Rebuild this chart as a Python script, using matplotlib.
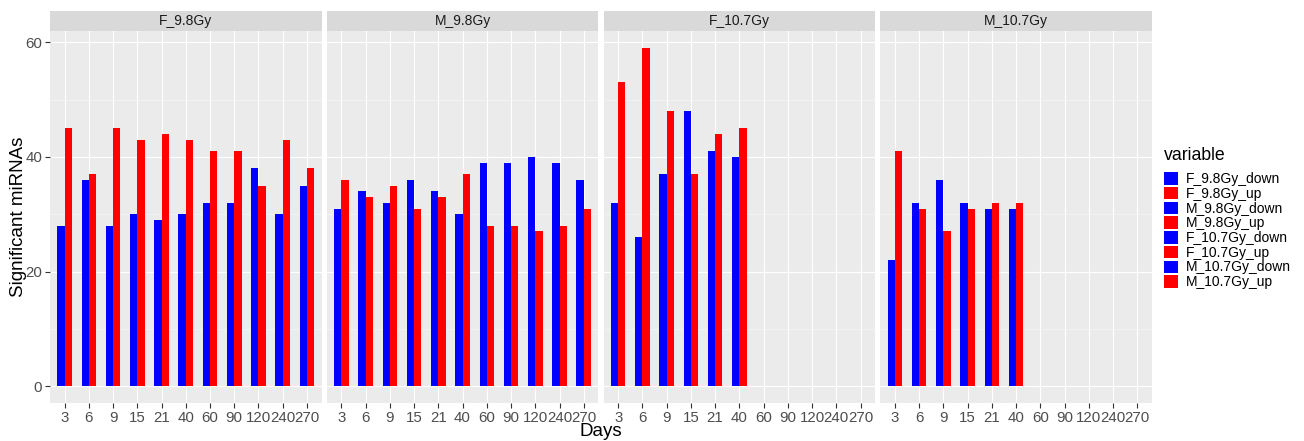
import matplotlib
matplotlib.use("Agg")
import matplotlib.pyplot as plt
from matplotlib.patches import Patch
import numpy as np

plt.rcParams['font.family'] = ['Liberation Sans', 'DejaVu Sans']

days = ["3", "6", "9", "15", "21", "40", "60", "90", "120", "240", "270"]
panels = ["F_9.8Gy", "M_9.8Gy", "F_10.7Gy", "M_10.7Gy"]

# significant miRNAs per day, down / up
down = {
    "F_9.8Gy": [28, 36, 28, 30, 29, 30, 32, 32, 38, 30, 35],
    "M_9.8Gy": [31, 34, 32, 36, 34, 30, 39, 39, 40, 39, 36],
    "F_10.7Gy": [32, 26, 37, 48, 41, 40],
    "M_10.7Gy": [22, 32, 36, 32, 31, 31],
}
up = {
    "F_9.8Gy": [45, 37, 45, 43, 44, 43, 41, 41, 35, 43, 38],
    "M_9.8Gy": [36, 33, 35, 31, 33, 37, 28, 28, 27, 28, 31],
    "F_10.7Gy": [53, 59, 48, 37, 44, 45],
    "M_10.7Gy": [41, 31, 27, 31, 32, 32],
}
legend_labels = ["F_9.8Gy_down", "F_9.8Gy_up", "M_9.8Gy_down", "M_9.8Gy_up",
                 "F_10.7Gy_down", "F_10.7Gy_up", "M_10.7Gy_down", "M_10.7Gy_up"]

W, H = 1304, 441
fig = plt.figure(figsize=(W / 100, H / 100), dpi=100)

left0, pw, gap = 50, 271.5, 5.3
top, strip_top, bottom = 31, 10.7, 403.3
bw = 0.3
txt_col = "#4D4D4D"

for i, name in enumerate(panels):
    x0 = left0 + i * (pw + gap)
    ax = fig.add_axes([x0 / W, (H - bottom) / H, pw / W, (bottom - top) / H])
    ax.set_facecolor("#EBEBEB")
    ax.set_axisbelow(True)
    d = down[name]
    u = up[name]
    pos = np.arange(len(d))
    ax.bar(pos - bw / 2, d, width=bw, color="#0000FF", linewidth=0)
    ax.bar(pos + bw / 2, u, width=bw, color="#FF0000", linewidth=0)
    ax.set_xlim(-0.6, len(days) - 0.4)
    ax.set_ylim(-2.95, 61.95)
    ax.set_xticks(np.arange(len(days)))
    ax.set_xticklabels(days)
    ax.set_yticks([0, 20, 40, 60])
    ax.set_yticks([10, 30, 50], minor=True)
    ax.grid(which="major", color="white", linewidth=0.85)
    ax.grid(which="minor", axis="y", color="#F7F7F7", linewidth=0.45)
    for s in ax.spines.values():
        s.set_visible(False)
    ax.tick_params(axis="both", which="major", length=3.5, width=0.8,
                   color="#333333", labelcolor=txt_col, labelsize=10.8, pad=2)
    ax.tick_params(which="minor", length=0)
    if i > 0:
        ax.tick_params(axis="y", left=False, labelleft=False)
    else:
        ax.set_ylabel("Significant miRNAs", fontsize=13.5, color="black")
        ax.yaxis.set_label_coords((27 - left0) / pw, 0.5)

    sax = fig.add_axes([x0 / W, (H - top) / H, pw / W, (top - strip_top) / H])
    sax.set_facecolor("#D9D9D9")
    sax.set_xticks([])
    sax.set_yticks([])
    for s in sax.spines.values():
        s.set_visible(False)
    sax.text(0.5, 0.5, name, ha="center", va="center", fontsize=10,
             color="#1A1A1A", transform=sax.transAxes)

fig.text((left0 + 2 * pw + 1.5 * gap) / W, 1 - 432 / H, "Days",
         ha="center", va="center", fontsize=13.5)

handles = [Patch(facecolor="#0000FF" if "down" in lab else "#FF0000",
                 edgecolor="none", label=lab) for lab in legend_labels]
leg = fig.legend(handles=handles, loc="upper left",
                 bbox_to_anchor=(1164 / W, 1 - 147 / H), frameon=False,
                 title="variable", fontsize=10, title_fontsize=12.7,
                 handlelength=1.0, handleheight=1.0, labelspacing=0.05,
                 handletextpad=0.6, borderaxespad=0, borderpad=0)
leg._legend_box.align = "left"
leg._legend_box.sep = 6

fig.savefig("out.png", dpi=100)
